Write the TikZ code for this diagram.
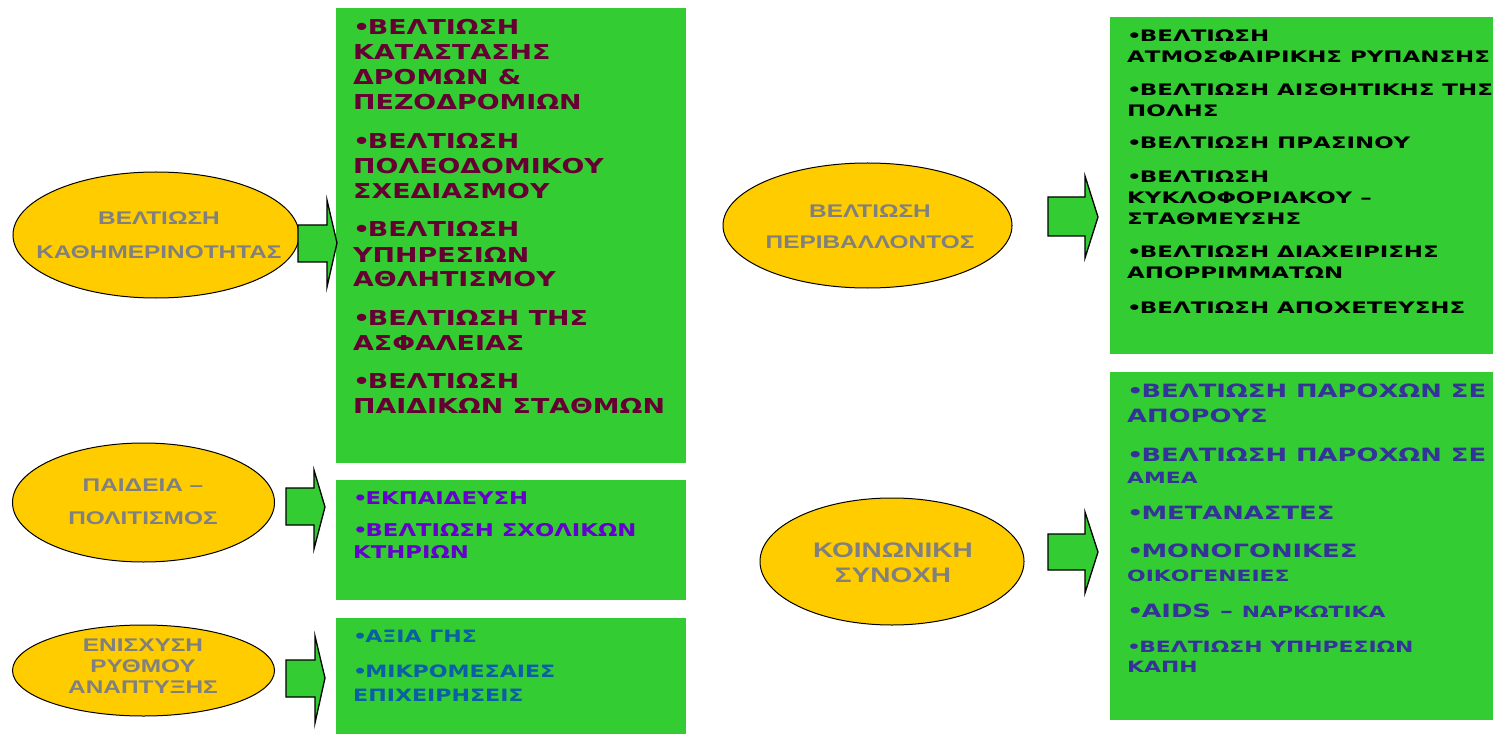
\documentclass[tikz,border=0pt]{standalone}
\usepackage{fontspec}
\usetikzlibrary{shapes.geometric}
\newfontfamily\fontA[FakeStretch=1.31]{DejaVu Sans}
\newfontfamily\fontB[FakeStretch=1.30]{DejaVu Sans}
\newfontfamily\fontD[FakeStretch=1.45]{DejaVu Sans}
\newfontfamily\fontE[FakeStretch=1.41]{DejaVu Sans}
\newfontfamily\fontO[FakeStretch=1.333]{Liberation Sans}
\newcommand{\bul}{•\kern-0.12em}
\definecolor{boxgreen}{HTML}{33CC33}
\definecolor{ovalfill}{HTML}{FFCC00}
\definecolor{ovaltext}{HTML}{808080}
\definecolor{cMaroon}{HTML}{660033}
\definecolor{cViolet}{HTML}{6600CC}
\definecolor{cSteel}{HTML}{0B5FA5}
\definecolor{cNavy}{HTML}{333399}
\begin{document}
\begin{tikzpicture}[x=1pt,y=-1pt,
  gbox/.style={rectangle, fill=boxgreen, draw=none, inner sep=0pt, outer sep=0pt, anchor=north west},
  oval/.style={ellipse, draw=black, line width=1pt, fill=ovalfill, inner sep=0pt},
  otext/.style={align=center, text=ovaltext, inner sep=0pt, anchor=base},
  item/.style={align=left, inner sep=0pt, anchor=base west},
  txtA/.style={item, text=cMaroon, font=\fontA\bfseries\fontsize{20.5}{25}\selectfont},
  txtB/.style={item, text=cViolet, font=\fontB\bfseries\fontsize{17.5}{22}\selectfont},
  txtC/.style={item, text=cSteel, font=\fontB\bfseries\fontsize{17}{24}\selectfont},
  txtD/.style={item, text=black, font=\fontD\bfseries\fontsize{15.8}{21}\selectfont},
  txtE/.style={item, text=cNavy, font=\fontE\bfseries\fontsize{18.3}{25}\selectfont},
  txtEs/.style={item, text=cNavy, font=\fontE\bfseries\fontsize{15.5}{20}\selectfont},
  blockarrow/.style={draw=black, line width=1.3pt, fill=boxgreen, line join=miter}]
\useasboundingbox (0,0) rectangle (1493,735);
\fill[white] (0,0) rectangle (1493,735);

% green boxes
\node[gbox, minimum width=350pt, minimum height=455pt] (boxA) at (336,8) {};
\node[gbox, minimum width=350pt, minimum height=120pt] (boxB) at (336,480) {};
\node[gbox, minimum width=350pt, minimum height=116pt] (boxC) at (336,618) {};
\node[gbox, minimum width=383pt, minimum height=337pt] (boxD) at (1110,17) {};
\node[gbox, minimum width=383pt, minimum height=348pt] (boxE) at (1110,372) {};

% ovals
\node[oval, minimum width=286pt, minimum height=126pt] (ovA) at (156,235) {};
\node[oval, minimum width=262pt, minimum height=119pt] (ovB) at (143.5,502.5) {};
\node[oval, minimum width=262pt, minimum height=91pt] (ovC) at (143.5,670.5) {};
\node[oval, minimum width=289pt, minimum height=125pt] (ovD) at (867.5,225.5) {};
\node[oval, minimum width=264pt, minimum height=127pt] (ovE) at (892,561.5) {};

% oval texts (anchored at the baseline of their last line)
\node[otext, font=\fontO\bfseries\fontsize{18.3}{34}\selectfont] (tA) at (159,259) {ΒΕΛΤΙΩΣΗ\\ΚΑΘΗΜΕΡΙΝΟΤΗΤΑΣ};
\node[otext, font=\fontO\bfseries\fontsize{18.3}{33}\selectfont] (tB) at (143,524) {ΠΑΙΔΕΙΑ –\\ΠΟΛΙΤΙΣΜΟΣ};
\node[otext, font=\fontO\bfseries\fontsize{18.3}{21}\selectfont] (tC) at (143,693) {ΕΝΙΣΧΥΣΗ\\ΡΥΘΜΟΥ\\ΑΝΑΠΤΥΞΗΣ};
\node[otext, font=\fontO\bfseries\fontsize{18.3}{32}\selectfont] (tD) at (870,249) {ΒΕΛΤΙΩΣΗ\\ΠΕΡΙΒΑΛΛΟΝΤΟΣ};
\node[otext, font=\fontO\bfseries\fontsize{21}{25}\selectfont] (tE) at (893,582) {ΚΟΙΝΩΝΙΚΗ\\ΣΥΝΟΧΗ};

% block arrows
\draw[blockarrow] (298,225) -- (327,225) -- (327,200) -- (337,243) -- (327,287) -- (327,262) -- (298,262) -- cycle;
\draw[blockarrow] (286,488) -- (314,488) -- (314,470) -- (325,507) -- (314,549) -- (314,525) -- (286,525) -- cycle;
\draw[blockarrow] (286,660) -- (315,660) -- (315,636) -- (325,678) -- (315,723) -- (315,697) -- (286,697) -- cycle;
\draw[blockarrow] (1048,197) -- (1085,197) -- (1085,176) -- (1098,217) -- (1085,258) -- (1085,236) -- (1048,236) -- cycle;
\draw[blockarrow] (1048,534) -- (1085,534) -- (1085,512) -- (1098,552) -- (1085,593) -- (1085,570) -- (1048,570) -- cycle;

% box A texts
\node[txtA] (a1) at (353,110) {\bul ΒΕΛΤΙΩΣΗ\\ΚΑΤΑΣΤΑΣΗΣ\\ΔΡΟΜΩΝ \&\\ΠΕΖΟΔΡΟΜΙΩΝ};
\node[txtA] (a2) at (353,199) {\bul ΒΕΛΤΙΩΣΗ\\ΠΟΛΕΟΔΟΜΙΚΟΥ\\ΣΧΕΔΙΑΣΜΟΥ};
\node[txtA] (a3) at (353,287) {\bul ΒΕΛΤΙΩΣΗ\\ΥΠΗΡΕΣΙΩΝ\\ΑΘΛΗΤΙΣΜΟΥ};
\node[txtA] (a4) at (353,350) {\bul ΒΕΛΤΙΩΣΗ ΤΗΣ\\ΑΣΦΑΛΕΙΑΣ};
\node[txtA] (a5) at (353,413) {\bul ΒΕΛΤΙΩΣΗ\\ΠΑΙΔΙΚΩΝ ΣΤΑΘΜΩΝ};

% box B texts
\node[txtB] (b1) at (353,504) {\bul ΕΚΠΑΙΔΕΥΣΗ};
\node[txtB] (b2) at (353,558) {\bul ΒΕΛΤΙΩΣΗ ΣΧΟΛΙΚΩΝ\\ΚΤΗΡΙΩΝ};

% box C texts
\node[txtC] (c1) at (353,642) {\bul ΑΞΙΑ ΓΗΣ};
\node[txtC] (c2) at (353,701) {\bul ΜΙΚΡΟΜΕΣΑΙΕΣ\\ΕΠΙΧΕΙΡΗΣΕΙΣ};

% box D texts
\node[txtD] (d1) at (1127,63) {\bul ΒΕΛΤΙΩΣΗ\\ΑΤΜΟΣΦΑΙΡΙΚΗΣ ΡΥΠΑΝΣΗΣ};
\node[txtD] (d2) at (1127,117) {\bul ΒΕΛΤΙΩΣΗ ΑΙΣΘΗΤΙΚΗΣ ΤΗΣ\\ΠΟΛΗΣ};
\node[txtD] (d3) at (1127,149) {\bul ΒΕΛΤΙΩΣΗ ΠΡΑΣΙΝΟΥ};
\node[txtD] (d4) at (1127,225) {\bul ΒΕΛΤΙΩΣΗ\\ΚΥΚΛΟΦΟΡΙΑΚΟΥ –\\ΣΤΑΘΜΕΥΣΗΣ};
\node[txtD] (d5) at (1127,279) {\bul ΒΕΛΤΙΩΣΗ ΔΙΑΧΕΙΡΙΣΗΣ\\ΑΠΟΡΡΙΜΜΑΤΩΝ};
\node[txtD] (d6) at (1127,313) {\bul ΒΕΛΤΙΩΣΗ ΑΠΟΧΕΤΕΥΣΗΣ};

% box E texts
\node[txtE] (e1) at (1127,422) {\bul ΒΕΛΤΙΩΣΗ ΠΑΡΟΧΩΝ ΣΕ\\ΑΠΟΡΟΥΣ};
\node[txtE] (e2) at (1127,461) {\bul ΒΕΛΤΙΩΣΗ ΠΑΡΟΧΩΝ ΣΕ};
\node[txtEs] (e2b) at (1127,483) {ΑΜΕΑ};
\node[txtE] (e3) at (1127,519) {\bul ΜΕΤΑΝΑΣΤΕΣ};
\node[txtE] (e4) at (1127,557) {\bul ΜΟΝΟΓΟΝΙΚΕΣ};
\node[txtEs] (e4b) at (1127,581) {ΟΙΚΟΓΕΝΕΙΕΣ};
\node[txtE] (e5) at (1127,617) {\bul AIDS – {\fontsize{15.5}{20}\selectfont ΝΑΡΚΩΤΙΚΑ}};
\node[txtEs] (e6) at (1127,672) {\bul ΒΕΛΤΙΩΣΗ ΥΠΗΡΕΣΙΩΝ\\ΚΑΠΗ};
\end{tikzpicture}
\end{document}
